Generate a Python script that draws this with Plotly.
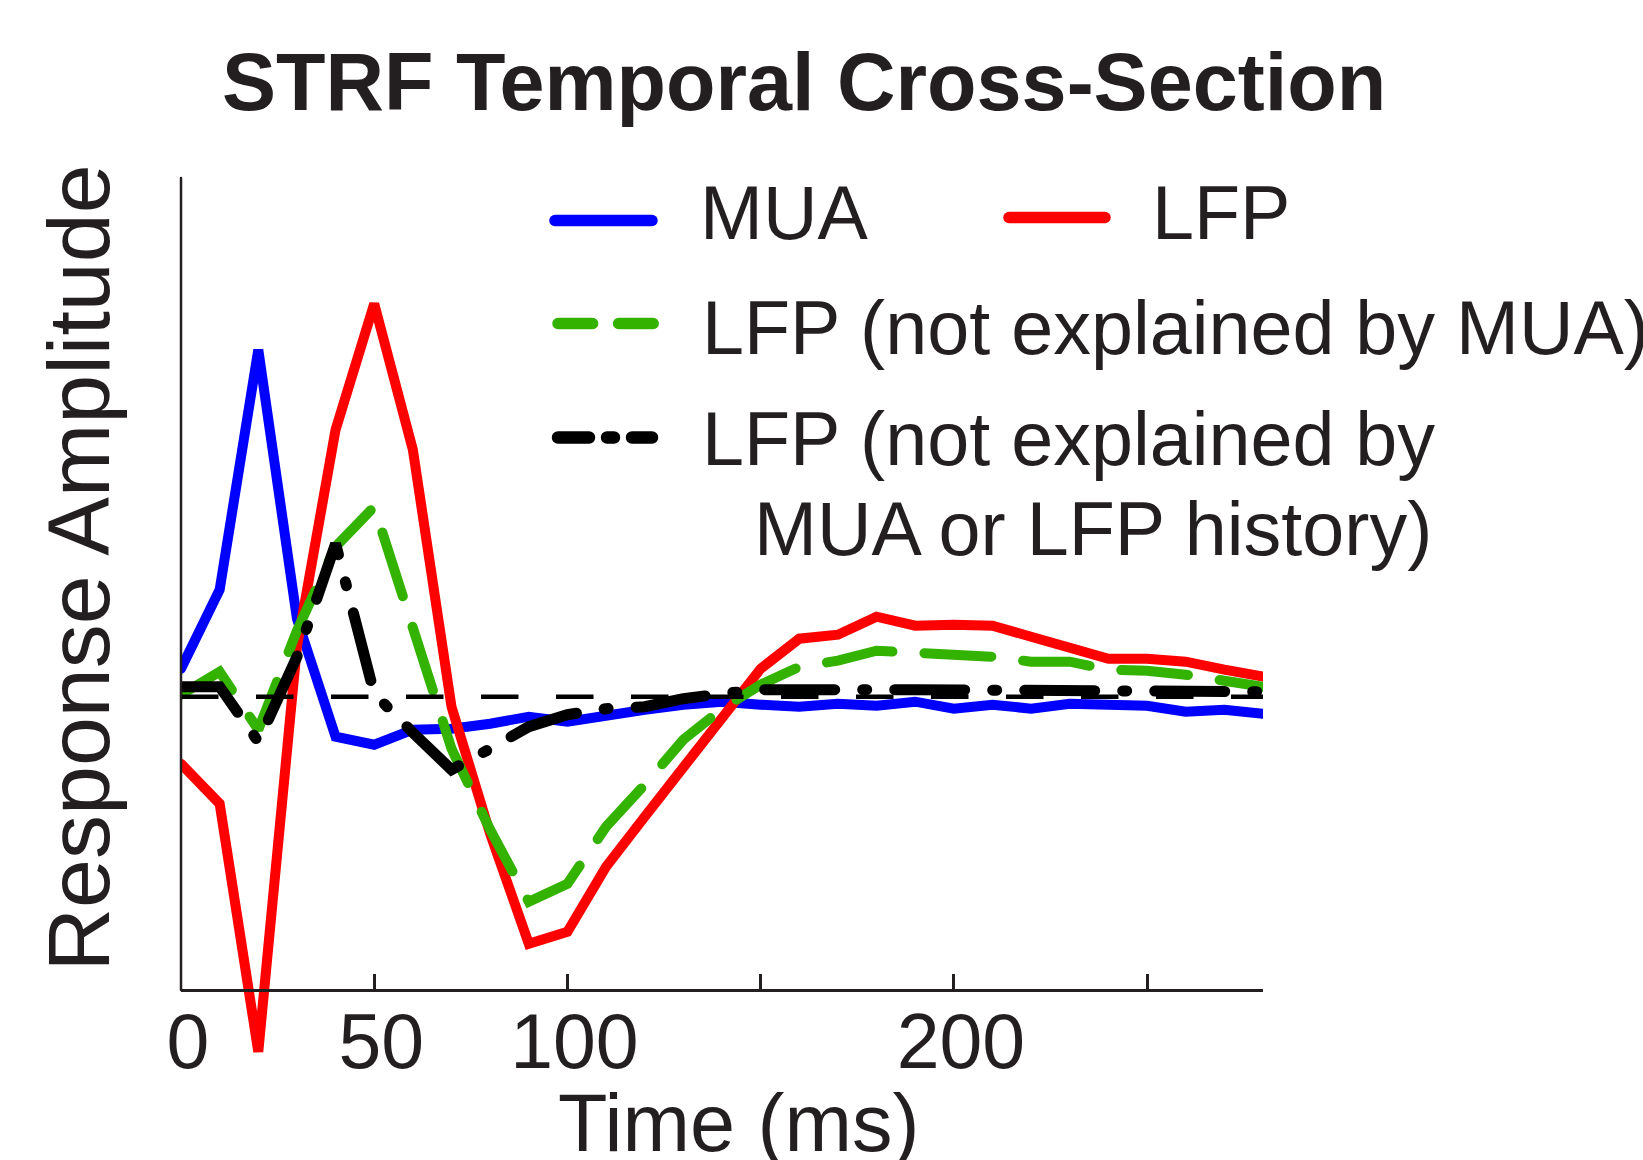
import plotly.graph_objects as go

# ---------------- data ----------------
time_ms = [0, 10, 20, 30, 40, 50, 60, 70, 80, 90, 100, 110, 120, 130, 140,
           150, 160, 170, 180, 190, 200, 210, 220, 230, 240, 250, 260, 270, 280]

mua = [0.28, 1.07, 3.47, 0.78, -0.40, -0.48, -0.33, -0.32, -0.27, -0.20, -0.25,
       -0.18, -0.13, -0.08, -0.05, -0.08, -0.10, -0.07, -0.09, -0.05, -0.12,
       -0.08, -0.12, -0.07, -0.08, -0.09, -0.15, -0.13, -0.17]

lfp = [-0.67, -1.07, -3.55, 0.50, 2.67, 3.93, 2.47, -0.10, -1.37, -2.47, -2.35,
       -1.70, -1.20, -0.70, -0.20, 0.28, 0.58, 0.62, 0.80, 0.71, 0.72, 0.71,
       0.60, 0.49, 0.38, 0.38, 0.35, 0.27, 0.20]

lfp_not_mua = [0.02, 0.25, -0.33, 0.66, 1.50, 1.90, 0.69, -0.52, -1.33, -2.05,
               -1.87, -1.30, -0.88, -0.43, -0.12, 0.12, 0.30, 0.36, 0.46, 0.44,
               0.43, 0.40, 0.35, 0.35, 0.27, 0.26, 0.22, 0.17, 0.10]

lfp_not_mua_hist = [0.10, 0.10, -0.45, 0.40, 1.53, 0.03, -0.36, -0.73, -0.52,
                    -0.30, -0.18, -0.12, -0.10, -0.02, 0.03, 0.07, 0.07, 0.08,
                    0.07, 0.07, 0.07, 0.06, 0.07, 0.07, 0.06, 0.06, 0.06, 0.05,
                    0.05]

baseline_x = [0, 280]
baseline_y = [0, 0]

tick_vals = [0, 50, 100, 150, 200, 250]
tick_text = ["0", "50", "100", "", "200", ""]

legend_labels = ["MUA", "LFP", "LFP (not explained by MUA)",
                 "LFP (not explained by", "MUA or LFP history)"]

title_text = "STRF Temporal Cross-Section"
x_title = "Time (ms)"
y_title = "Response Amplitude"

# ---------------- layout geometry ----------------
W, H = 1643, 1160
L, R, T, B = 181, 380, 178, 100
PW = W - L - R
PH = H - T - B
AXIS_PX = 990  # pixel row of the x-axis line


def px(xp):
    return (xp - L) / PW


def py(yp):
    return (H - B - yp) / PH


def val(yp):
    return (696.7 - yp) / 100.0


FONT = "Liberation Sans, Arial, Helvetica, sans-serif"
TXT = "#231f20"
BLUE = "#0000ff"
RED = "#ff0000"
GREEN = "#33b200"
BLACK = "#000000"

fig = go.Figure()
fig.add_trace(go.Scatter(x=time_ms, y=mua, mode="lines", name="MUA",
                         line=dict(color=BLUE, width=10)))
fig.add_trace(go.Scatter(x=time_ms, y=lfp, mode="lines", name="LFP",
                         line=dict(color=RED, width=10)))
fig.add_trace(go.Scatter(x=time_ms, y=lfp_not_mua, mode="lines",
                         name="LFP (not explained by MUA)",
                         line=dict(color=GREEN, width=10, dash="67px,32px")))
fig.add_trace(go.Scatter(x=baseline_x, y=baseline_y, mode="lines", name="zero",
                         line=dict(color=BLACK, width=4.5, dash="37.5px,37.5px")))
fig.add_trace(go.Scatter(x=time_ms, y=lfp_not_mua_hist, mode="lines",
                         name="LFP (not explained by MUA or LFP history)",
                         line=dict(color=BLACK, width=11,
                                   dash="70px,28px,4px,28px")))

shapes = []
# y axis line
shapes.append(dict(type="line", xref="paper", yref="paper",
                   x0=0, x1=0, y0=py(AXIS_PX), y1=1.0,
                   line=dict(color=TXT, width=2.5)))
# legend samples
shapes.append(dict(type="line", xref="paper", yref="paper",
                   x0=px(555), x1=px(652), y0=py(220.5), y1=py(220.5),
                   line=dict(color=BLUE, width=11.5)))
shapes.append(dict(type="line", xref="paper", yref="paper",
                   x0=px(1009), x1=px(1105), y0=py(217.5), y1=py(217.5),
                   line=dict(color=RED, width=11.5)))
shapes.append(dict(type="line", xref="paper", yref="paper",
                   x0=px(558), x1=px(654), y0=py(323.5), y1=py(323.5),
                   line=dict(color=GREEN, width=11.5, dash="34.6px,26px")))
shapes.append(dict(type="line", xref="paper", yref="paper",
                   x0=px(558), x1=px(652), y0=py(437.5), y1=py(437.5),
                   line=dict(color=BLACK, width=12.5,
                             dash="31px,18px,7px,18px,30px")))

ann = []
ann.append(dict(text="<b>" + title_text + "</b>", x=px(804), y=py(82.5),
                xref="paper", yref="paper", xanchor="center", yanchor="middle",
                showarrow=False, font=dict(family=FONT, size=81, color=TXT)))
ann.append(dict(text=x_title, x=px(738), y=py(1122.5),
                xref="paper", yref="paper", xanchor="center", yanchor="middle",
                showarrow=False, font=dict(family=FONT, size=81, color=TXT)))
ann.append(dict(text=y_title, x=px(78), y=py(568.5), textangle=-90,
                xref="paper", yref="paper", xanchor="center", yanchor="middle",
                showarrow=False, font=dict(family=FONT, size=88, color=TXT)))
leg_pos = [(698, 213), (1150, 213), (700, 327.5), (700, 439), (752, 529)]
for lab, (lx, ly) in zip(legend_labels, leg_pos):
    ann.append(dict(text=lab, x=px(lx), y=py(ly), xref="paper", yref="paper",
                    xanchor="left", yanchor="middle", showarrow=False,
                    font=dict(family=FONT, size=75.5, color=TXT)))

fig.update_layout(
    width=W, height=H,
    margin=dict(l=L, r=R, t=T, b=B, pad=0),
    paper_bgcolor="white", plot_bgcolor="white",
    showlegend=False,
    shapes=shapes, annotations=ann,
    xaxis=dict(range=[0, 280], anchor="free", position=py(AXIS_PX),
               showline=True, linecolor=TXT, linewidth=2.5,
               ticks="inside", ticklen=15, tickwidth=2.5, tickcolor=TXT,
               tickvals=tick_vals, ticktext=tick_text,
               ticklabelstandoff=-16, ticklabelshift=7,
               tickfont=dict(family=FONT, size=77, color=TXT),
               showgrid=False, zeroline=False),
    yaxis=dict(range=[val(H - B), val(T)], showline=False, showticklabels=False,
               ticks="", showgrid=False, zeroline=False),
)

post = """
document.body.style.margin='0';
document.body.style.overflow='hidden';
function rc(){
  var tr=document.querySelectorAll('.scatterlayer .trace');
  tr.forEach(function(t,i){ if(i!==3){ t.querySelectorAll('path.js-line').forEach(function(p){p.style.strokeLinecap='round';}); } });
  document.querySelectorAll('.shapelayer path').forEach(function(p){p.style.strokeLinecap='round';});
}
rc();
"""
fig.write_html("out.html", post_script=post, config={"displayModeBar": False})
